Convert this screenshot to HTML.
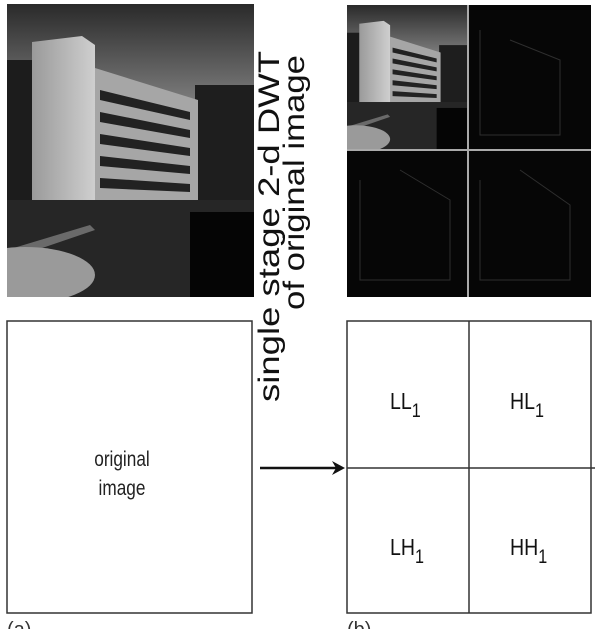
<!DOCTYPE html>
<html><head><meta charset="utf-8"><style>
html,body{margin:0;padding:0;background:#fff;}
svg{display:block;}
text{font-family:"Liberation Sans",sans-serif;}
</style></head><body>
<svg width="595" height="629" viewBox="0 0 595 629">
<defs>
<linearGradient id="sky" x1="0" y1="0" x2="0" y2="1">
<stop offset="0" stop-color="#2a2a2a"/><stop offset="0.35" stop-color="#808080"/><stop offset="1" stop-color="#a0a0a0"/>
</linearGradient>
<linearGradient id="tower" x1="0" y1="0" x2="1" y2="0">
<stop offset="0" stop-color="#9a9a9a"/><stop offset="1" stop-color="#cfcfcf"/>
</linearGradient>
<clipPath id="photoclip"><rect x="7" y="4" width="247" height="293"/></clipPath>
</defs>

<g id="photo" clip-path="url(#photoclip)">
<rect x="7" y="4" width="247" height="293" fill="url(#sky)"/>
<rect x="7" y="60" width="30" height="180" fill="#1c1c1c"/>
<rect x="195" y="85" width="59" height="130" fill="#1e1e1e"/>
<polygon points="95,68 198,100 198,205 95,205" fill="#a6a6a6"/>
<g fill="#222">
<polygon points="100,90 190,112 190,120 100,100"/>
<polygon points="100,112 190,130 190,138 100,122"/>
<polygon points="100,134 190,148 190,156 100,144"/>
<polygon points="100,156 190,166 190,174 100,166"/>
<polygon points="100,178 190,184 190,192 100,188"/>
</g>
<polygon points="32,42 82,36 95,45 95,205 32,205" fill="url(#tower)"/>
<rect x="7" y="200" width="247" height="97" fill="#262626"/>
<rect x="190" y="212" width="64" height="85" fill="#050505"/>
<polygon points="7,250 90,225 95,230 7,260" fill="#6a6a6a"/>
<ellipse cx="25" cy="275" rx="70" ry="28" fill="#9a9a9a"/>
</g>

<g>
<rect x="347" y="5" width="244" height="292" fill="#060606"/>
<use href="#photo" transform="translate(347,5) scale(0.49,0.495) translate(-7,-4)"/>
<g stroke="#2e2e2e" stroke-width="1" fill="none">
<polyline points="480,30 480,135 560,135 560,60 510,40"/>
<polyline points="360,180 360,280 450,280 450,200 400,170"/>
<polyline points="480,180 480,280 570,280 570,205 520,170"/>
</g>
<line x1="468" y1="5" x2="468" y2="297" stroke="#aaa" stroke-width="2"/>
<line x1="347" y1="150" x2="591" y2="150" stroke="#aaa" stroke-width="2"/>
</g>

<g fill="#111">
<text transform="translate(279,402) rotate(-90)" font-size="30" textLength="351" lengthAdjust="spacingAndGlyphs">single stage 2-d DWT</text>
<text transform="translate(304,310) rotate(-90)" font-size="30" textLength="255" lengthAdjust="spacingAndGlyphs">of original image</text>
</g>

<g>
<rect x="7" y="321" width="245" height="292" fill="#fff" stroke="#333" stroke-width="1.5"/>
<text x="122" y="466" font-size="21" text-anchor="middle" fill="#222" transform="translate(122,0) scale(0.82,1) translate(-122,0)">original</text>
<text x="122" y="495" font-size="21" text-anchor="middle" fill="#222" transform="translate(122,0) scale(0.82,1) translate(-122,0)">image</text>
</g>

<g>
<line x1="260" y1="468" x2="336" y2="468" stroke="#111" stroke-width="2.5"/>
<polygon points="345,468 332,461 336,468 332,475" fill="#111"/>
</g>

<g>
<rect x="347" y="321" width="244" height="292" fill="#fff" stroke="#333" stroke-width="1.5"/>
<line x1="469" y1="321" x2="469" y2="613" stroke="#333" stroke-width="1.5"/>
<line x1="347" y1="468" x2="595" y2="468" stroke="#333" stroke-width="1.5"/>
<g font-size="23" fill="#111">
<text transform="translate(390,409) scale(0.85,1)">LL<tspan font-size="19" dy="8">1</tspan></text>
<text transform="translate(510,409) scale(0.85,1)">HL<tspan font-size="19" dy="8">1</tspan></text>
<text transform="translate(390,555) scale(0.85,1)">LH<tspan font-size="19" dy="8">1</tspan></text>
<text transform="translate(510,555) scale(0.85,1)">HH<tspan font-size="19" dy="8">1</tspan></text>
</g>
</g>

<text x="7" y="636" font-size="20" fill="#333">(a)</text>
<text x="347" y="636" font-size="20" fill="#333">(b)</text>
</svg>
</body></html>
